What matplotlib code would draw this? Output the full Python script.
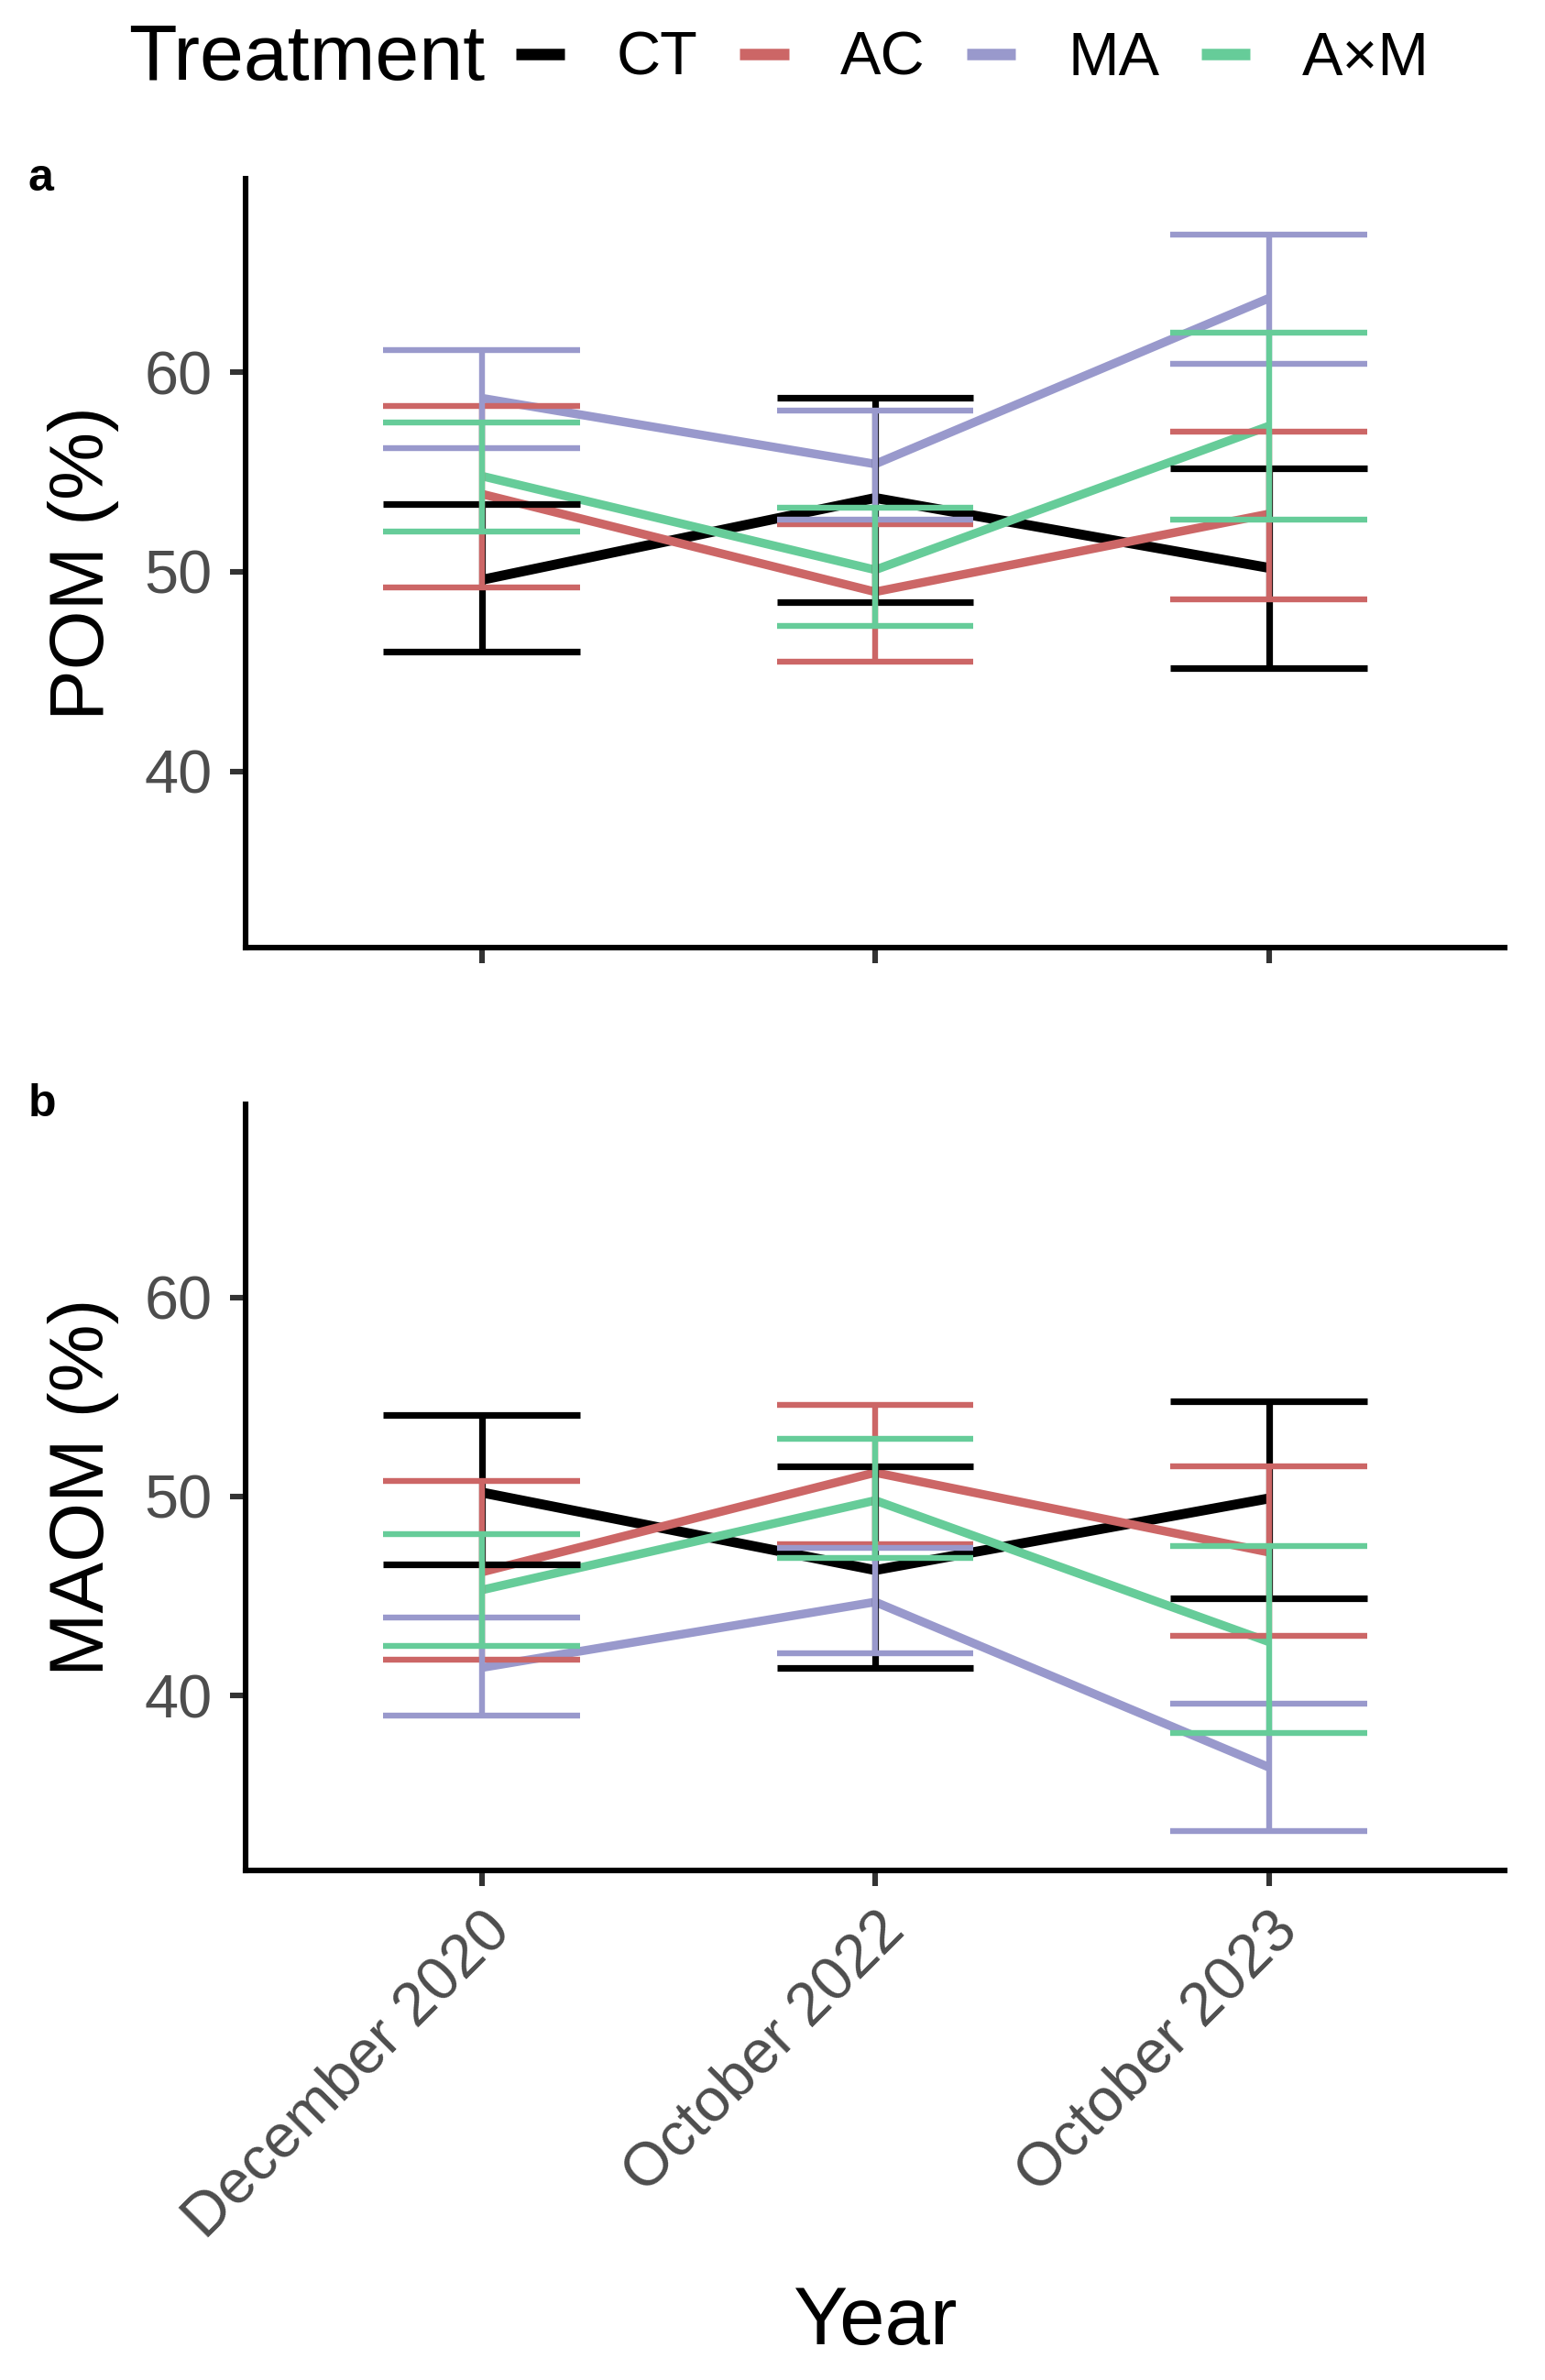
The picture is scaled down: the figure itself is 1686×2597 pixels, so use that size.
import matplotlib
matplotlib.use("Agg")
import matplotlib.pyplot as plt
from matplotlib.lines import Line2D

plt.rcParams["font.family"] = ["Liberation Sans", "DejaVu Sans"]

# sampling dates and treatments
years = ["December 2020", "October 2022", "October 2023"]
treatments = ["CT", "AC", "MA", "A×M"]
colors = ["#000000", "#CC6666", "#9999CC", "#66CC99"]

# POM (%) mean and error bar limits, one list per treatment
pom_mean = {
    "CT": [49.6, 53.7, 50.2],
    "AC": [53.9, 49.0, 52.9],
    "MA": [58.7, 55.4, 63.7],
    "A×M": [54.8, 50.1, 57.3],
}
pom_low = {
    "CT": [46.0, 48.5, 45.2],
    "AC": [49.2, 45.5, 48.6],
    "MA": [56.2, 52.6, 60.4],
    "A×M": [52.0, 47.3, 52.6],
}
pom_high = {
    "CT": [53.4, 58.7, 55.2],
    "AC": [58.3, 52.4, 57.0],
    "MA": [61.1, 58.1, 66.9],
    "A×M": [57.5, 53.2, 62.0],
}

# MAOM (%)
maom_mean = {
    "CT": [50.2, 46.3, 49.9],
    "AC": [46.2, 51.2, 47.2],
    "MA": [41.4, 44.7, 36.4],
    "A×M": [45.3, 49.8, 42.7],
}
maom_low = {
    "CT": [46.6, 41.4, 44.9],
    "AC": [41.8, 47.6, 43.0],
    "MA": [39.0, 42.1, 33.2],
    "A×M": [42.5, 46.9, 38.1],
}
maom_high = {
    "CT": [54.1, 51.5, 54.8],
    "AC": [50.8, 54.6, 51.5],
    "MA": [43.9, 47.4, 39.6],
    "A×M": [48.1, 52.9, 47.5],
}

x = [1, 2, 3]
cap = 0.25

fig = plt.figure(figsize=(8.43, 12.985), dpi=200)
ax_a = fig.add_axes([0.159, 0.602, 0.815, 0.323])
ax_b = fig.add_axes([0.159, 0.214, 0.815, 0.322])


def draw_panel(ax, mean, low, high, ylabel):
    for trt, col in zip(treatments, colors):
        lw = 3.9 if trt == "CT" else 3.4
        ax.plot(x, mean[trt], color=col, lw=lw, zorder=2, solid_capstyle="butt")
    for trt, col in zip(treatments, colors):
        elw = 2.6 if trt == "CT" else 2.3
        ax.vlines(x, low[trt], high[trt], color=col, lw=elw, zorder=3)
        xl = [v - cap for v in x]
        xr = [v + cap for v in x]
        ax.hlines(low[trt], xl, xr, color=col, lw=elw, zorder=3)
        ax.hlines(high[trt], xl, xr, color=col, lw=elw, zorder=3)

    ax.set_xlim(0.4, 3.6)
    ax.set_ylim(31.2, 69.7)
    ax.set_yticks([40, 50, 60])
    ax.set_xticks(x)
    for s in ["top", "right"]:
        ax.spines[s].set_visible(False)
    for s in ["left", "bottom"]:
        ax.spines[s].set_linewidth(2.2)
        ax.spines[s].set_color("black")
    ax.tick_params(axis="both", length=6, width=2.2, color="#333333",
                   labelsize=24, labelcolor="#4D4D4D", pad=7)
    ax.set_ylabel(ylabel, fontsize=30, labelpad=10)


draw_panel(ax_a, pom_mean, pom_low, pom_high, "POM (%)")
draw_panel(ax_b, maom_mean, maom_low, maom_high, "MAOM (%)")

ax_a.set_xticklabels([])
ax_b.set_xticklabels(years, rotation=45, ha="right", va="top", rotation_mode="anchor")
ax_b.tick_params(axis="x", pad=6)
ax_b.set_xlabel("Year", fontsize=32, labelpad=14)

fig.text(0.018, 0.925, "a", fontsize=18, fontweight="bold", va="center")
fig.text(0.018, 0.536, "b", fontsize=18, fontweight="bold", va="center")

# legend across the top
fig.text(0.083, 0.975, "Treatment", fontsize=31, va="center", ha="left")
handles = [Line2D([0], [0], color=c, lw=4.5, solid_capstyle="butt") for c in colors]
fig.legend(handles, treatments, loc="center left", bbox_to_anchor=(0.334, 0.975),
           ncol=4, frameon=False, fontsize=24, handlelength=0.8,
           handletextpad=0.85, columnspacing=0.68, borderpad=0, borderaxespad=0)

fig.savefig("out.png", dpi=200)
